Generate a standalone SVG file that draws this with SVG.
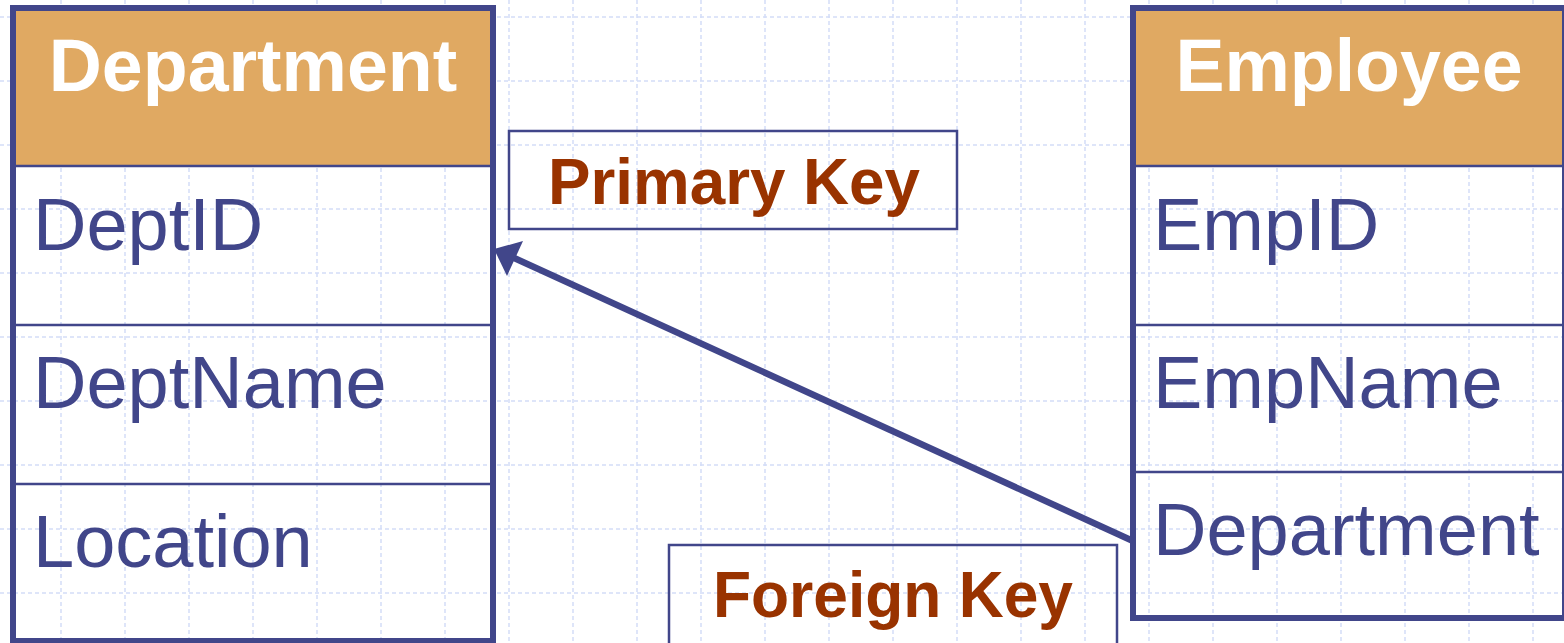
<svg xmlns="http://www.w3.org/2000/svg" width="1564" height="643" viewBox="0 0 1564 643">
  <style>
    .grid line { stroke: #d3ddf8; stroke-width: 1.5; stroke-dasharray: 4 3; }
    .hdr { fill: #e0a962; }
    .frame { fill: none; stroke: #41468a; stroke-width: 6; }
    .div { stroke: #41468a; stroke-width: 2.5; }
    .title { font-family: "Liberation Sans", Arial, sans-serif; font-weight: bold; font-size: 73.5px; fill: #ffffff; text-anchor: middle; }
    .field { font-family: "Liberation Sans", Arial, sans-serif; font-size: 74px; fill: #41468a; }
    .note { fill: none; stroke: #41468a; stroke-width: 2.5; }
    .noteText { font-family: "Liberation Sans", Arial, sans-serif; font-weight: bold; font-size: 64px; fill: #993300; text-anchor: middle; }
    .link { stroke: #41468a; stroke-width: 6.5; fill: none; }
    .head { fill: #41468a; }
  </style>

  <rect x="0" y="0" width="1564" height="643" fill="#ffffff"/>

  <!-- background grid -->
  <g class="grid">
    <line x1="-3" y1="0" x2="-3" y2="643"/>
    <line x1="61" y1="0" x2="61" y2="643"/>
    <line x1="125" y1="0" x2="125" y2="643"/>
    <line x1="189" y1="0" x2="189" y2="643"/>
    <line x1="253" y1="0" x2="253" y2="643"/>
    <line x1="317" y1="0" x2="317" y2="643"/>
    <line x1="381" y1="0" x2="381" y2="643"/>
    <line x1="445" y1="0" x2="445" y2="643"/>
    <line x1="509" y1="0" x2="509" y2="643"/>
    <line x1="573" y1="0" x2="573" y2="643"/>
    <line x1="637" y1="0" x2="637" y2="643"/>
    <line x1="701" y1="0" x2="701" y2="643"/>
    <line x1="765" y1="0" x2="765" y2="643"/>
    <line x1="829" y1="0" x2="829" y2="643"/>
    <line x1="893" y1="0" x2="893" y2="643"/>
    <line x1="957" y1="0" x2="957" y2="643"/>
    <line x1="1021" y1="0" x2="1021" y2="643"/>
    <line x1="1085" y1="0" x2="1085" y2="643"/>
    <line x1="1149" y1="0" x2="1149" y2="643"/>
    <line x1="1213" y1="0" x2="1213" y2="643"/>
    <line x1="1277" y1="0" x2="1277" y2="643"/>
    <line x1="1341" y1="0" x2="1341" y2="643"/>
    <line x1="1405" y1="0" x2="1405" y2="643"/>
    <line x1="1469" y1="0" x2="1469" y2="643"/>
    <line x1="1533" y1="0" x2="1533" y2="643"/>
    <line x1="0" y1="17" x2="1564" y2="17"/>
    <line x1="0" y1="81" x2="1564" y2="81"/>
    <line x1="0" y1="145" x2="1564" y2="145"/>
    <line x1="0" y1="209" x2="1564" y2="209"/>
    <line x1="0" y1="273" x2="1564" y2="273"/>
    <line x1="0" y1="337" x2="1564" y2="337"/>
    <line x1="0" y1="401" x2="1564" y2="401"/>
    <line x1="0" y1="465" x2="1564" y2="465"/>
    <line x1="0" y1="529" x2="1564" y2="529"/>
    <line x1="0" y1="593" x2="1564" y2="593"/>
  </g>

  <!-- Department table -->
  <g id="department">
    <rect class="hdr" x="13" y="8" width="480" height="158"/>
    <line class="div" x1="13" y1="166" x2="493" y2="166"/>
    <line class="div" x1="13" y1="325" x2="493" y2="325"/>
    <line class="div" x1="13" y1="484" x2="493" y2="484"/>
    <rect class="frame" x="13" y="8" width="480" height="633"/>
    <text class="title" x="253" y="91">Department</text>
    <text class="field" x="33" y="250">DeptID</text>
    <text class="field" x="33" y="408">DeptName</text>
    <text class="field" x="33" y="567">Location</text>
  </g>

  <!-- Employee table -->
  <g id="employee">
    <rect class="hdr" x="1133" y="8" width="432" height="158"/>
    <line class="div" x1="1133" y1="166" x2="1565" y2="166"/>
    <line class="div" x1="1133" y1="325" x2="1565" y2="325"/>
    <line class="div" x1="1133" y1="472" x2="1565" y2="472"/>
    <rect class="frame" x="1133" y="8" width="432" height="610"/>
    <text class="title" x="1349" y="91">Employee</text>
    <text class="field" x="1153" y="250">EmpID</text>
    <text class="field" x="1153" y="408">EmpName</text>
    <text class="field" x="1153" y="555">Department</text>
  </g>

  <!-- key labels -->
  <g id="primary-key">
    <rect class="note" x="509" y="131" width="448" height="98"/>
    <text class="noteText" x="734" y="204" textLength="372" lengthAdjust="spacingAndGlyphs">Primary Key</text>
  </g>
  <g id="foreign-key">
    <rect class="note" x="669" y="545" width="448" height="110"/>
    <text class="noteText" x="893" y="617" textLength="360" lengthAdjust="spacingAndGlyphs">Foreign Key</text>
  </g>

  <!-- connectors -->
  <g id="connectors">
    <line class="link" x1="1133" y1="541" x2="512" y2="257"/>
    <polygon class="head" points="494,249 523,241 507,276"/>
  </g>
</svg>
